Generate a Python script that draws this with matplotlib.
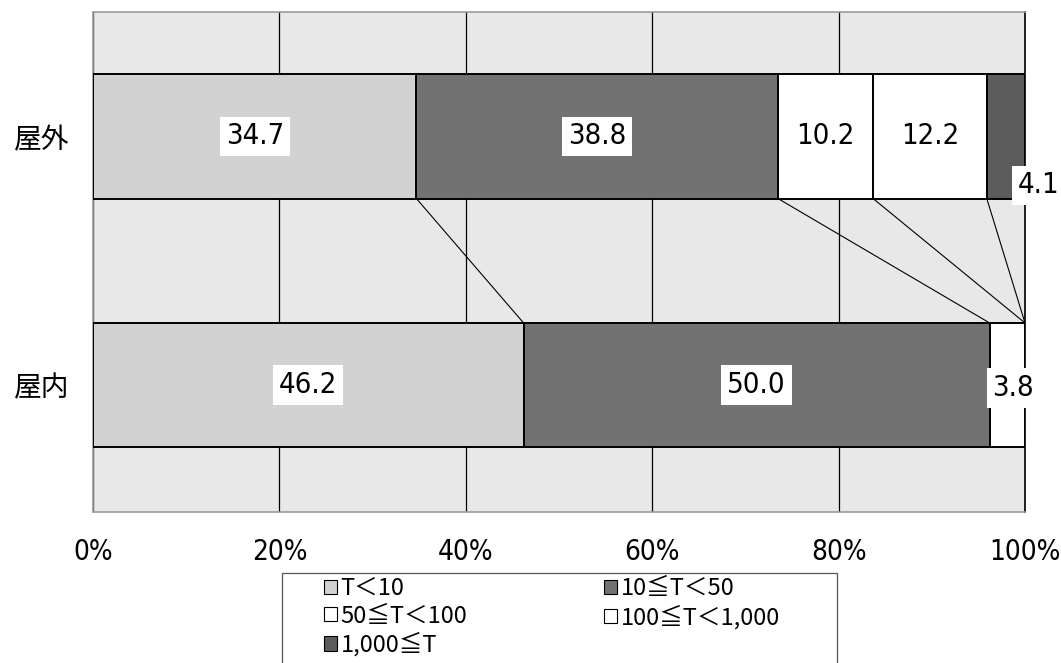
import matplotlib
matplotlib.use("Agg")
import matplotlib.pyplot as plt
import numpy as np
from matplotlib import font_manager as fm
from matplotlib.patches import Patch, Rectangle

categories = ["屋外", "屋内"]
series_names = ["T＜10", "10≦T＜50", "50≦T＜100", "100≦T＜1,000", "1,000≦T"]
values = {
    "屋外": [34.7, 38.8, 10.2, 12.2, 4.1],
    "屋内": [46.2, 50.0, 3.8, 0.0, 0.0],
}
tick_values = [0, 20, 40, 60, 80, 100]
tick_labels = ["0%", "20%", "40%", "60%", "80%", "100%"]

colors = ["#d2d2d2", "#727272", "#ffffff", "#ffffff", "#5c5c5c"]
bg = "#e8e8e8"

# find a condensed / narrow sans font if one is installed
narrow_path = None
for f in fm.fontManager.ttflist:
    if f.name == "Liberation Sans Narrow" and f.weight in (400, "normal") and f.style == "normal":
        narrow_path = f.fname
        break
if narrow_path is None:
    for f in fm.fontManager.ttflist:
        fn = f.fname.lower()
        if ("condensed" in fn or "narrow" in fn) and "bold" not in fn and "oblique" not in fn \
                and "italic" not in fn and "mono" not in fn and "serif" not in fn:
            narrow_path = f.fname
            break


def numfont(size):
    if narrow_path:
        return fm.FontProperties(fname=narrow_path, size=size)
    return fm.FontProperties(family="Liberation Sans", size=size * 0.85)


cjk = ["Noto Sans CJK JP", "DejaVu Sans"]

fig = plt.figure(figsize=(10.61, 6.63), dpi=100)
ax = fig.add_axes([93 / 1061, 1 - 512 / 663, 932 / 1061, 500 / 663])
ax.set_facecolor(bg)

ypos = {"屋外": 1.0, "屋内": 0.0}
h = 0.5
for cat in categories:
    left = 0.0
    for i, v in enumerate(values[cat]):
        if v > 0:
            ax.barh(ypos[cat], v, left=left, height=h, color=colors[i],
                    edgecolor="black", linewidth=1.4, zorder=3)
        left += v

# series lines connecting cumulative boundaries
cum_top = np.cumsum(values["屋外"])
cum_bot = np.cumsum(values["屋内"])
for a, b in zip(cum_top[:-1], cum_bot[:-1]):
    ax.plot([a, b], [ypos["屋外"] - h / 2, ypos["屋内"] + h / 2],
            color="black", linewidth=0.8, zorder=2)

# data labels
label_offsets = {("屋外", 4): (33, -49), ("屋内", 2): (6, -3)}
for cat in categories:
    left = 0.0
    for i, v in enumerate(values[cat]):
        if v > 0:
            dx, dy = label_offsets.get((cat, i), (0, 0))
            ax.annotate(f"{v:.1f}", (left + v / 2, ypos[cat]),
                        xytext=(dx, dy), textcoords="offset pixels",
                        ha="center", va="center", fontproperties=numfont(21),
                        zorder=5, annotation_clip=False,
                        bbox=dict(boxstyle="square,pad=0.2", fc="white", ec="none"))
        left += v

ax.set_xlim(0, 100)
ax.set_ylim(-0.51, 1.5)
ax.set_xticks(tick_values)
ax.set_xticklabels(tick_labels, fontproperties=numfont(20))
ax.tick_params(axis="x", length=0, pad=19)
ax.set_yticks([ypos[c] for c in categories])
ax.set_yticklabels(categories, family=cjk, fontsize=20)
ax.tick_params(axis="y", length=0, pad=17)
ax.grid(axis="x", color="black", linewidth=0.9, zorder=1)
ax.set_axisbelow(True)
for s in ["left", "top", "bottom"]:
    ax.spines[s].set_color("#9a9a9a")
    ax.spines[s].set_linewidth(1.2)
ax.spines["right"].set_color("black")
ax.spines["right"].set_linewidth(1.2)

# legend: frame drawn separately (runs off the bottom edge), two single-column legends inside
fig.patches.append(Rectangle((282 / 1061, -0.05), (837 - 282) / 1061, 1 - 573 / 663 + 0.05,
                             transform=fig.transFigure, fill=False,
                             edgecolor="#555555", linewidth=0.9))
col_x = [324, 604]
col_items = [[0, 2, 4], [1, 3]]
for cx, items in zip(col_x, col_items):
    handles = [Patch(facecolor=colors[i], edgecolor="black", linewidth=0.8) for i in items]
    labels = [series_names[i] for i in items]
    fig.legend(handles, labels, loc="upper left",
               bbox_to_anchor=(cx / 1061, 1 - 577 / 663),
               prop={"family": cjk, "size": 17}, frameon=False,
               handlelength=0.55, handleheight=0.55, handletextpad=0.15,
               labelspacing=0.2, borderpad=0, borderaxespad=0)

fig.savefig("out.png", dpi=100)
